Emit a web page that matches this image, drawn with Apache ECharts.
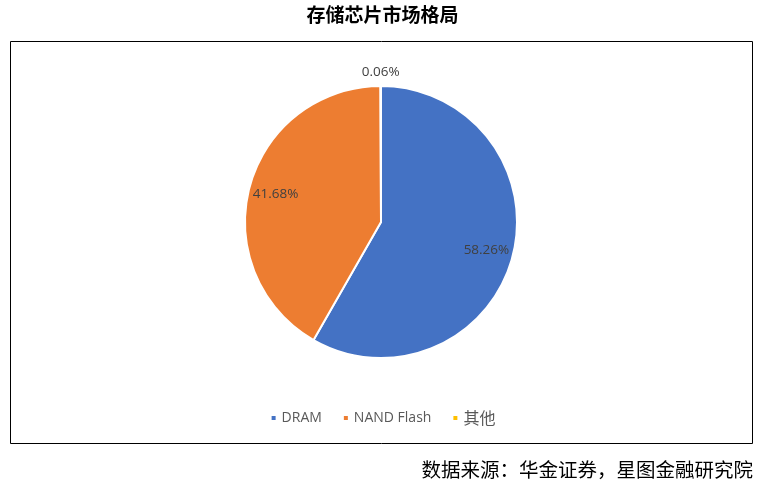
<!DOCTYPE html>
<html>
<head>
<meta charset="utf-8">
<script src="https://cdn.jsdelivr.net/npm/echarts@6/dist/echarts.min.js"></script>
<style>html,body{margin:0;padding:0;background:#fff;}#c{width:765px;height:486px;}</style>
</head>
<body>
<div id="c"></div>
<script>
const categories = ['DRAM', 'NAND Flash', '其他'];
const shares = [58.26, 41.68, 0.06];
const colors = ['#4472C4', '#ED7D31', '#FFC000'];
const titleText = '存储芯片市场格局';
const sourceText = '数据来源：华金证券，星图金融研究院';

const data = categories.map((n, i) => ({ name: n, value: shares[i], itemStyle: { color: colors[i] } }));
const fmt = p => p.value.toFixed(2) + '%';
const labelFont = { color: '#404040', fontSize: 13.5, fontFamily: 'Open Sans, Noto Sans CJK SC, sans-serif' };
const C = [381, 222], R = 136;

const chart = echarts.init(document.getElementById('c'), null, { renderer: 'canvas' });
chart.setOption({
  backgroundColor: '#fff',
  animation: false,
  title: {
    text: titleText, left: 'center', top: 0,
    textStyle: { fontSize: 19, fontWeight: 'bold', color: '#000', fontFamily: 'Noto Sans CJK SC, sans-serif' }
  },
  graphic: [
    { type: 'rect', shape: { x: 10.5, y: 41.5, width: 742, height: 402 }, style: { fill: 'none', stroke: '#000', lineWidth: 1 }, z: -1 },
    { type: 'text', right: 12, top: 460, style: { text: sourceText, fontSize: 19.5, fill: '#000', fontFamily: 'Noto Sans CJK SC, sans-serif' } }
  ],
  legend: {
    bottom: 55, left: 'center', icon: 'rect', itemWidth: 6, itemHeight: 6, itemGap: 20,
    formatter: n => n === '其他' ? '{c|' + n + '}' : n,
    textStyle: { fontSize: 14, color: '#595959', fontFamily: 'Open Sans, Noto Sans CJK SC, sans-serif',
      rich: { c: { fontSize: 16, color: '#595959', fontFamily: 'Noto Sans CJK SC, sans-serif' } } },
    data: categories.map((n, i) => ({ name: n, itemStyle: { color: colors[i] } }))
  },
  series: [
    {
      type: 'pie', center: C, radius: R, startAngle: 90, clockwise: true,
      data: data, label: { show: false }, labelLine: { show: false },
      itemStyle: { borderColor: '#fff', borderWidth: 2 }, silent: true
    },
    {
      type: 'pie', center: C, radius: [R * 0.56, R], startAngle: 90, clockwise: true, silent: true,
      data: data.map((d, i) => ({ name: d.name, value: d.value, itemStyle: { color: 'rgba(0,0,0,0)' }, label: { show: i < 2 } })),
      label: Object.assign({ position: 'inside', formatter: fmt }, labelFont), labelLine: { show: false }
    },
    {
      type: 'pie', center: C, radius: [R + 2, R + 20], startAngle: 90, clockwise: true, silent: true,
      data: data.map((d, i) => ({ name: d.name, value: d.value, itemStyle: { color: 'rgba(0,0,0,0)' }, label: { show: i === 2 } })),
      label: Object.assign({ position: 'inside', formatter: fmt }, labelFont), labelLine: { show: false }
    }
  ]
});
</script>
</body>
</html>
